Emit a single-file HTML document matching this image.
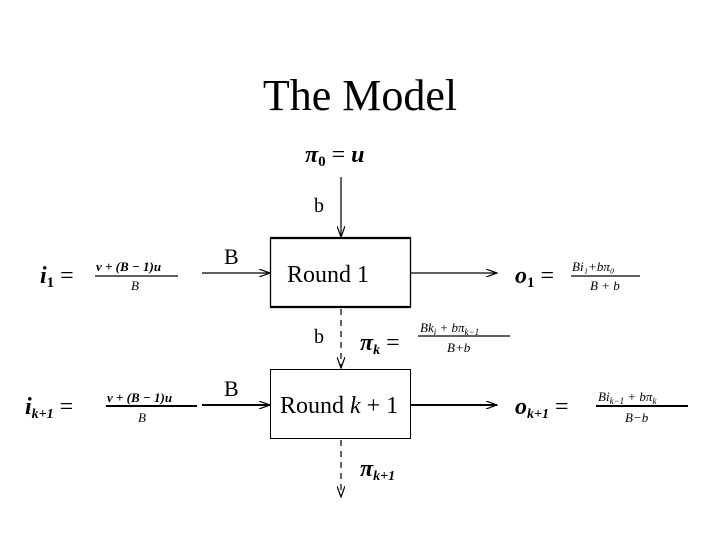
<!DOCTYPE html>
<html><head><style>body{margin:0;background:#fff}svg{display:block}</style></head><body>
<svg width="720" height="540" viewBox="0 0 720 540" xmlns="http://www.w3.org/2000/svg" font-family="Liberation Serif, serif">
<defs><marker id="a" markerWidth="12" markerHeight="8" refX="11" refY="4" orient="auto" markerUnits="userSpaceOnUse"><path d="M0,0 L11,4 L0,8" fill="none" stroke="#000" stroke-width="1.2"/></marker></defs>
<text x="360" y="110" font-size="44" text-anchor="middle">The Model</text>
<text x="305" y="162" font-size="24" font-style="italic" font-weight="bold">π<tspan font-size="15" dy="4" font-style="normal">0</tspan><tspan dy="-4" font-style="normal" font-weight="normal"> = </tspan>u</text>
<line x1="341" y1="177" x2="341" y2="237" stroke="#000" stroke-width="1.2" marker-end="url(#a)"/>
<text x="314" y="212" font-size="20">b</text>
<rect x="270.5" y="238" width="140" height="69" fill="none" stroke="#000" stroke-width="1.3"/>
<line x1="270" y1="238" x2="411" y2="238" stroke="#000" stroke-width="2.2"/>
<line x1="270" y1="307" x2="411" y2="307" stroke="#000" stroke-width="2.2"/>
<text x="287" y="282" font-size="24">Round 1</text>
<line x1="202" y1="273" x2="270" y2="273" stroke="#000" stroke-width="1.2" marker-end="url(#a)"/>
<text x="224" y="264" font-size="22">B</text>
<text x="40" y="283" font-size="24" font-style="italic" font-weight="bold">i<tspan font-size="15" dy="4" font-style="normal">1</tspan><tspan dy="-4" font-weight="normal" font-style="normal"> =</tspan></text>
<text x="96" y="271" font-size="13" font-style="italic" font-weight="bold">v + (B − 1)u</text>
<line x1="95" y1="276" x2="178" y2="276" stroke="#000" stroke-width="1.2"/>
<text x="131" y="290" font-size="13" font-style="italic">B</text>
<line x1="410" y1="273" x2="497" y2="273" stroke="#000" stroke-width="1.2" marker-end="url(#a)"/>
<text x="515" y="283" font-size="24" font-style="italic" font-weight="bold">o<tspan font-size="15" dy="4" font-style="normal">1</tspan><tspan dy="-4" font-weight="normal" font-style="normal"> =</tspan></text>
<text x="572" y="271" font-size="13" font-style="italic">Bi₁+bπ₀</text>
<line x1="571" y1="276" x2="640" y2="276" stroke="#000" stroke-width="1.2"/>
<text x="590" y="290" font-size="13" font-style="italic">B + b</text>
<line x1="341" y1="309" x2="341" y2="368" stroke="#000" stroke-width="1.2" stroke-dasharray="6,5" marker-end="url(#a)"/>
<text x="314" y="343" font-size="20">b</text>
<text x="360" y="350" font-size="24" font-style="italic" font-weight="bold">π<tspan font-size="14" dy="4">k</tspan><tspan dy="-4" font-weight="normal" font-style="normal"> = </tspan></text>
<text x="420" y="332" font-size="13" font-style="italic">Bk<tspan font-size="9" dy="3">i</tspan><tspan dy="-3"> + bπ</tspan><tspan font-size="9" dy="3">k−1</tspan></text>
<line x1="418" y1="336" x2="510" y2="336" stroke="#000" stroke-width="1.2"/>
<text x="447" y="352" font-size="13" font-style="italic">B+b</text>
<rect x="270.5" y="369.5" width="140" height="69" fill="none" stroke="#000" stroke-width="1"/>
<text x="280" y="413" font-size="24">Round <tspan font-style="italic">k</tspan> + 1</text>
<line x1="202" y1="405" x2="270" y2="405" stroke="#000" stroke-width="2" marker-end="url(#a)"/>
<text x="224" y="396" font-size="22">B</text>
<text x="25" y="414" font-size="24" font-style="italic" font-weight="bold">i<tspan font-size="14" dy="4">k+1</tspan><tspan dy="-4" font-weight="normal" font-style="normal"> =</tspan></text>
<text x="107" y="402" font-size="13" font-style="italic" font-weight="bold">v + (B − 1)u</text>
<line x1="106" y1="406" x2="197" y2="406" stroke="#000" stroke-width="2"/>
<text x="138" y="422" font-size="13" font-style="italic">B</text>
<line x1="410" y1="405" x2="497" y2="405" stroke="#000" stroke-width="2" marker-end="url(#a)"/>
<text x="515" y="414" font-size="24" font-style="italic" font-weight="bold">o<tspan font-size="14" dy="4">k+1</tspan><tspan dy="-4" font-weight="normal" font-style="normal"> =</tspan></text>
<text x="598" y="401" font-size="13" font-style="italic">Bi<tspan font-size="9" dy="3">k−1</tspan><tspan dy="-3"> + bπ</tspan><tspan font-size="9" dy="3">k</tspan></text>
<line x1="596" y1="406" x2="688" y2="406" stroke="#000" stroke-width="2"/>
<text x="625" y="422" font-size="13" font-style="italic">B−b</text>
<line x1="341" y1="440" x2="341" y2="497" stroke="#000" stroke-width="1.2" stroke-dasharray="6,5" marker-end="url(#a)"/>
<text x="360" y="476" font-size="24" font-style="italic" font-weight="bold">π<tspan font-size="14" dy="4">k+1</tspan></text>
</svg>
</body></html>
